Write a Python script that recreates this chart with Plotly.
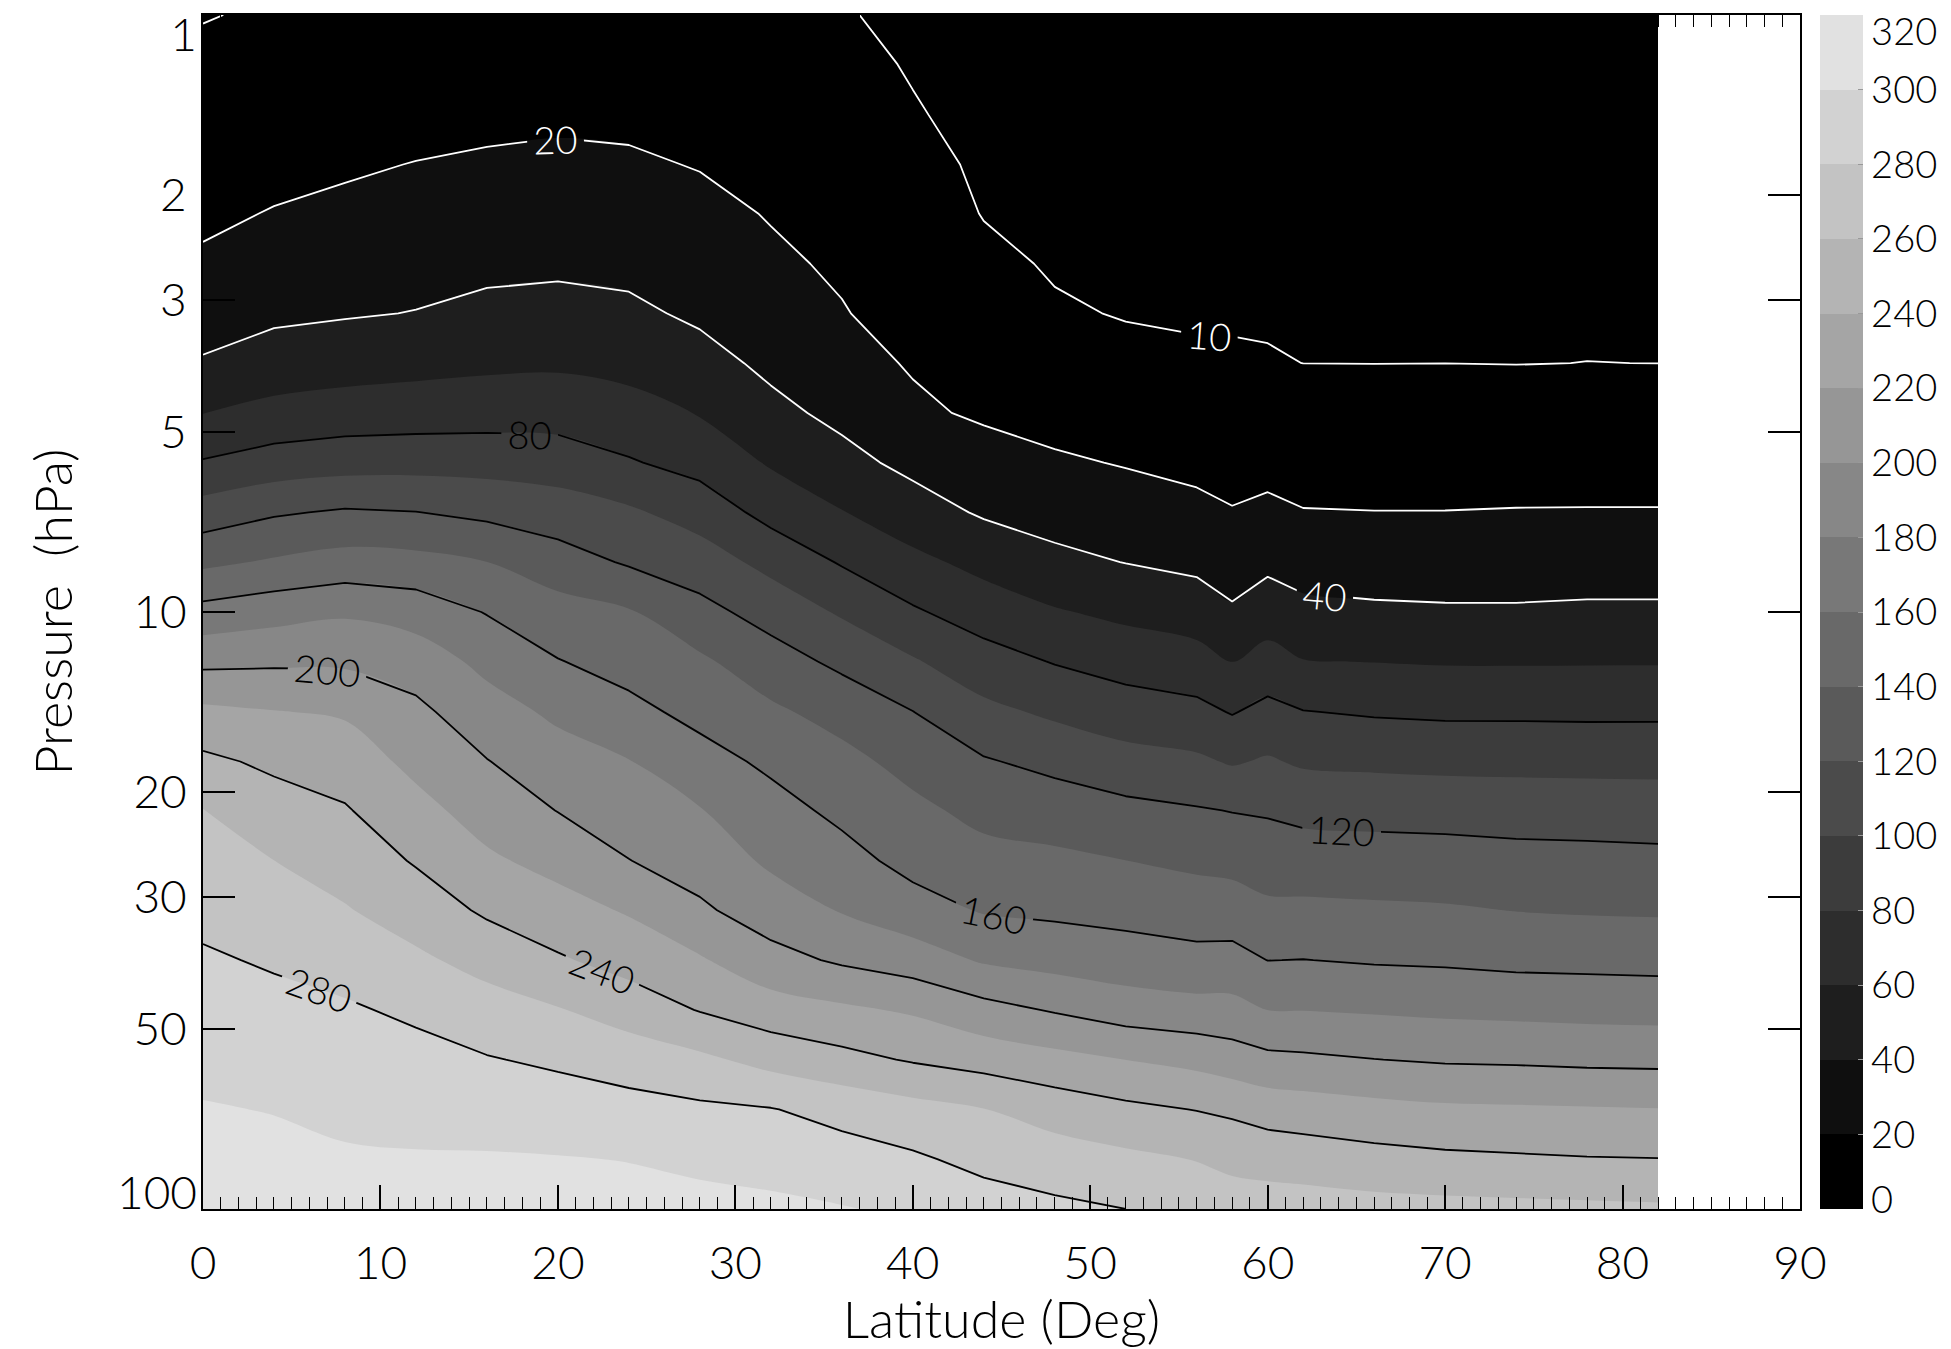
import plotly.graph_objects as go

# Latitude columns (deg) and pressure levels (hPa, 12 per decade)
lats = [0, 4, 8, 12, 16, 20, 24, 28, 32, 36, 40, 44, 48, 52, 56, 58, 60, 62, 66, 70, 74, 78, 82]
pressure = [1.0, 1.21, 1.47, 1.78, 2.15, 2.61, 3.16, 3.83, 4.64, 5.62, 6.81, 8.25, 10.0,
            12.1, 14.7, 17.8, 21.5, 26.1, 31.6, 38.3, 46.4, 56.2, 68.1, 82.5, 100.0]

# Values (ppbv) per latitude column, from 1 hPa down to 100 hPa
n2o_00 = [9.6, 11.9, 14.1, 16.4, 18.7, 21.0, 32.2, 41.6, 59.6, 81.5, 109.2, 135.8, 166.6, 195.2, 224.5, 244.2, 260.6, 267.9, 275.2, 282.3, 288.7, 295.2, 301.1, 305.6, 310]
n2o_04 = [11, 13.3, 15.7, 18.0, 20.35, 28.8, 36.4, 48.5, 66, 88.6, 117.8, 142.3, 172.5, 196.8, 220.8, 236.2, 248.6, 260.1, 269, 278, 285.4, 292.4, 299.4, 304.3, 309]
n2o_08 = [11.5, 14.0, 16.5, 19.1, 21.5, 31.4, 38.5, 51.5, 69.3, 91.9, 122.3, 147.6, 177.3, 196.9, 217.8, 230.4, 241.7, 251.5, 261.4, 272.6, 282.3, 289.2, 296, 302.1, 307]
n2o_12 = [12, 14.7, 17.4, 20.2, 26.9, 33.6, 40.5, 54, 70.5, 92.9, 120.4, 146, 171.5, 190.7, 204.5, 214.9, 226.2, 238.3, 250.8, 263.6, 276.6, 286.1, 294.3, 301.4, 306]
n2o_16 = [12.5, 15.3, 18.2, 21.0, 29.1, 35.8, 44.4, 56.2, 71.7, 92.4, 115.4, 140.1, 159, 174.7, 188.3, 200.7, 211.7, 223.3, 236.9, 253.4, 268.2, 281.2, 292.8, 301.4, 305]
n2o_20 = [13, 15.8, 18.7, 21.5, 30.1, 36.8, 45.8, 57.2, 71.6, 90.7, 109.4, 129, 147.8, 160.8, 176.2, 188.4, 199.5, 213.6, 227.7, 242.3, 261.2, 276.7, 290.2, 300.8, 304]
n2o_24 = [12.5, 15.4, 18.3, 21.1, 29.1, 35.6, 43.4, 54.3, 66.8, 81.7, 103, 117.8, 141.7, 152.7, 165.3, 180.7, 190.5, 200.4, 218.1, 232.8, 250.9, 271.1, 286.7, 299.5, 306]
n2o_28 = [12, 14.5, 17.1, 19.6, 22.3, 31, 37, 46.3, 59, 73.2, 91.7, 109.5, 126.1, 143.3, 154.5, 167.2, 181, 191.4, 203.2, 222.1, 239, 264.1, 283.5, 296.5, 305]
n2o_32 = [11, 13.1, 15.2, 17.4, 19.5, 21.5, 30.3, 36.2, 44.7, 58, 73.6, 94.1, 112.4, 128.6, 143.5, 156.3, 167, 176.8, 190, 206.7, 229.2, 253.4, 280.9, 293, 304]
n2o_36 = [10.5, 12.2, 13.8, 15.5, 17.2, 18.8, 20.5, 28.8, 35.6, 45.5, 60.9, 78.3, 97.6, 115.6, 132.8, 145.8, 155.6, 166.7, 178.8, 197.2, 223.5, 245.9, 273.2, 288.8, 301]
n2o_40 = [8.5, 9.4, 10.6, 12.4, 14.1, 15.5, 16.6, 17.8, 24.6, 35.3, 48.2, 65.1, 82.4, 101.9, 120.3, 133.5, 144.7, 154, 167.8, 190.1, 217.6, 238.2, 266.7, 282.8, 297]
n2o_44 = [6, 6.9, 7.9, 8.8, 9.7, 11.7, 12.5, 14.5, 16.2, 31.4, 37.8, 54.1, 70.9, 87.9, 105.1, 121.7, 134.4, 146.6, 158.5, 177.9, 206.6, 232.2, 260.5, 274.7, 289]
n2o_48 = [5, 5.9, 6.7, 7.6, 8.5, 9.3, 10.8, 14.2, 17.6, 20.9, 32.8, 44.6, 61.7, 78.9, 96.5, 114.7, 130.3, 144, 156.2, 173, 198.3, 226, 251.2, 269.7, 284]
n2o_52 = [5, 5.8, 6.5, 7.3, 8.1, 8.9, 9.6, 12, 15.8, 19.6, 23.2, 39.6, 55.5, 72.2, 89.2, 107.3, 125.2, 140.1, 153.6, 169.1, 190.2, 219.9, 244.3, 264.4, 280]
n2o_56 = [5, 5.7, 6.5, 7.2, 7.9, 8.7, 9.4, 10.8, 14.5, 18.2, 21.8, 35.7, 50.1, 67.6, 85.3, 103.3, 121.5, 136, 150.2, 165.8, 186.9, 214.3, 239.4, 259.3, 274]
n2o_58 = [5, 5.7, 6.6, 7.3, 8.0, 8.7, 9.4, 10.7, 14, 17.2, 20.43, 31.3, 42.3, 59.3, 78.8, 98.2, 119.4, 134, 149.6, 166.6, 186.2, 209.4, 236.5, 254.4, 271]
n2o_60 = [5, 5.7, 6.5, 7.2, 7.9, 8.6, 9.4, 10.4, 14.1, 17.8, 21.5, 35.8, 50.1, 67.4, 85.6, 102, 118, 130.8, 143.9, 159.8, 179.9, 204.7, 231.7, 252, 270]
n2o_62 = [5, 5.7, 6.4, 7.1, 7.9, 8.6, 9.3, 9.98, 13.4, 16.9, 20.3, 32.2, 44.7, 60.7, 80.6, 97.4, 114.8, 129.6, 144, 160.3, 179.6, 203.5, 229.6, 250.6, 269]
n2o_66 = [5, 5.7, 6.4, 7.1, 7.8, 8.5, 9.2, 9.95, 13.2, 16.6, 20.13, 31.1, 42.9, 59.6, 78, 96, 113.6, 128.8, 142.9, 158.2, 177.9, 200.3, 225.9, 246.7, 267]
n2o_70 = [5, 5.7, 6.4, 7.1, 7.9, 8.6, 9.3, 9.98, 13.3, 16.7, 20.13, 30.8, 42.1, 58.5, 76.7, 94.8, 112.8, 128.1, 141.9, 157.3, 176.1, 198, 223.2, 243.9, 266]
n2o_74 = [5, 5.7, 6.4, 7.1, 7.8, 8.5, 9.2, 9.9, 13.1, 16.7, 20.34, 31.1, 42, 58.4, 76.7, 94.5, 111.6, 126.5, 139.6, 155.2, 174.9, 197.2, 222.3, 242.4, 265]
n2o_78 = [5, 5.7, 6.4, 7.1, 7.9, 8.6, 9.3, 10.03, 13.5, 16.9, 20.37, 31.5, 42.9, 58.6, 76.4, 94.1, 111.1, 125.8, 138.4, 154.6, 173.8, 195.8, 221.5, 241, 264]
n2o_82 = [5, 5.7, 6.4, 7.1, 7.8, 8.5, 9.2, 9.98, 13.4, 16.9, 20.37, 31.5, 42.9, 58.6, 76.5, 94, 110.3, 124.9, 137.8, 153.8, 173.1, 195.2, 220.6, 240.4, 263]

columns = [n2o_00, n2o_04, n2o_08, n2o_12, n2o_16, n2o_20, n2o_24, n2o_28, n2o_32,
           n2o_36, n2o_40, n2o_44, n2o_48, n2o_52, n2o_56, n2o_58, n2o_60, n2o_62,
           n2o_66, n2o_70, n2o_74, n2o_78, n2o_82]
z = [[col[i] for col in columns] for i in range(len(pressure))]

cbar_ticks = list(range(0, 321, 20))
cbar_labels = [str(v) for v in cbar_ticks]
x_ticks = list(range(0, 91, 10))
p_ticks = [1, 2, 3, 5, 10, 20, 30, 50, 100]
p_labels = [str(v) for v in p_ticks]

# discrete gray scale, 16 bands
n_bands = 16
cscale = []
for k in range(n_bands):
    g = 15 * k
    c = f"rgb({g},{g},{g})"
    cscale.append([k / n_bands, c])
    cscale.append([(k + 1) / n_bands, c])
clear_scale = [[0, "rgba(0,0,0,0)"], [1, "rgba(0,0,0,0)"]]

FONT = "Lato"
tick_font = dict(family=FONT, size=46, color="black", weight=300)
title_font = dict(family=FONT, size=52, color="black", weight=300)
cbar_font = dict(family=FONT, size=38, color="black", weight=300)
cbar_geom = dict(x=1.0125, xanchor="left", thickness=43, thicknessmode="pixels",
                 lenmode="fraction", xpad=0, ypad=0, outlinewidth=0)

fig = go.Figure()
fig.add_trace(go.Contour(
    x=lats, y=pressure, z=z,
    autocontour=False,
    contours=dict(start=0, end=320, size=20, coloring="fill", showlines=False),
    zmin=0, zmax=320,
    colorscale=cscale,
    line=dict(width=0),
    hoverinfo="skip",
    colorbar=dict(
        **cbar_geom, y=0.5, yanchor="middle", len=1,
        tickvals=cbar_ticks,
        ticktext=[""] + cbar_labels[1:-1] + [""],
        ticks="inside", ticklen=5, tickcolor="#999999",
        tickfont=cbar_font,
    ),
))

for lv_start, lv_end, lv_size, col in [(10, 20, 10, "white"), (40, 40, 20, "white"), (80, 280, 40, "black")]:
    fig.add_trace(go.Contour(
        x=lats, y=pressure, z=z,
        autocontour=False,
        contours=dict(start=lv_start, end=lv_end, size=lv_size, coloring="none",
                      showlabels=True,
                      labelfont=dict(family=FONT, size=38, color=col, weight=300)),
        line=dict(color=col, width=1.8, smoothing=0),
        showscale=False, hoverinfo="skip",
    ))

# end labels of the colour bar sit just inside the bar's ends, as in the reference
fig.add_trace(go.Scatter(
    x=[None], y=[None], mode="markers", showlegend=False, hoverinfo="skip",
    marker=dict(color=[0], cmin=0, cmax=320, colorscale=clear_scale, showscale=True,
                colorbar=dict(**cbar_geom, y=0.4966, yanchor="middle", len=0.9782,
                              tickvals=[cbar_ticks[0], cbar_ticks[-1]],
                              ticktext=[cbar_labels[0], cbar_labels[-1]],
                              ticks="", ticklabeloverflow="allow", tickfont=cbar_font)),
))

# end labels of the pressure axis sit just inside the frame, as in the reference
fig.add_trace(go.Scatter(x=[None], y=[None], yaxis="y2", showlegend=False, hoverinfo="skip"))
fig.add_trace(go.Scatter(x=[None], y=[None], yaxis="y3", showlegend=False, hoverinfo="skip"))

end_axis = dict(type="linear", range=[0, 1], overlaying="y", anchor="x", side="left",
                ticks="", showline=False, showgrid=False, zeroline=False,
                tickfont=tick_font, ticklabelstandoff=5, automargin=False,
                ticklabeloverflow="allow")

fig.update_layout(
    width=1943, height=1341,
    margin=dict(l=195, r=151, t=7, b=140),
    paper_bgcolor="white", plot_bgcolor="white",
    font=dict(family=FONT, color="black"),
    showlegend=False,
    xaxis=dict(
        range=[0, 90], tickvals=x_ticks, ticks="inside", ticklen=24, tickwidth=1.5,
        tickcolor="black",
        minor=dict(dtick=1, ticks="inside", ticklen=12, tickwidth=1.2, tickcolor="black"),
        showline=True, linecolor="black", linewidth=2, mirror="ticks",
        showgrid=False, zeroline=False, tickfont=tick_font, ticklabelstandoff=13,
        automargin=False,
        title=dict(text="Latitude (Deg)", font=title_font, standoff=8),
    ),
    yaxis=dict(
        type="log", range=[2, 0], tickvals=p_ticks,
        ticktext=[""] + p_labels[1:-1] + [""],
        ticks="inside", ticklen=32, tickwidth=1.5, tickcolor="black",
        showline=True, linecolor="black", linewidth=2, mirror="ticks",
        showgrid=False, zeroline=False, tickfont=tick_font, ticklabelstandoff=5,
        automargin=False,
        title=dict(text="Pressure  (hPa)", font=title_font, standoff=44),
    ),
    yaxis2=dict(**end_axis, tickvals=[1], ticktext=[p_labels[0]], ticklabelshift=20),
    yaxis3=dict(**end_axis, tickvals=[0], ticktext=[p_labels[-1]], ticklabelshift=-16),
)

fig.write_html("out.html")
